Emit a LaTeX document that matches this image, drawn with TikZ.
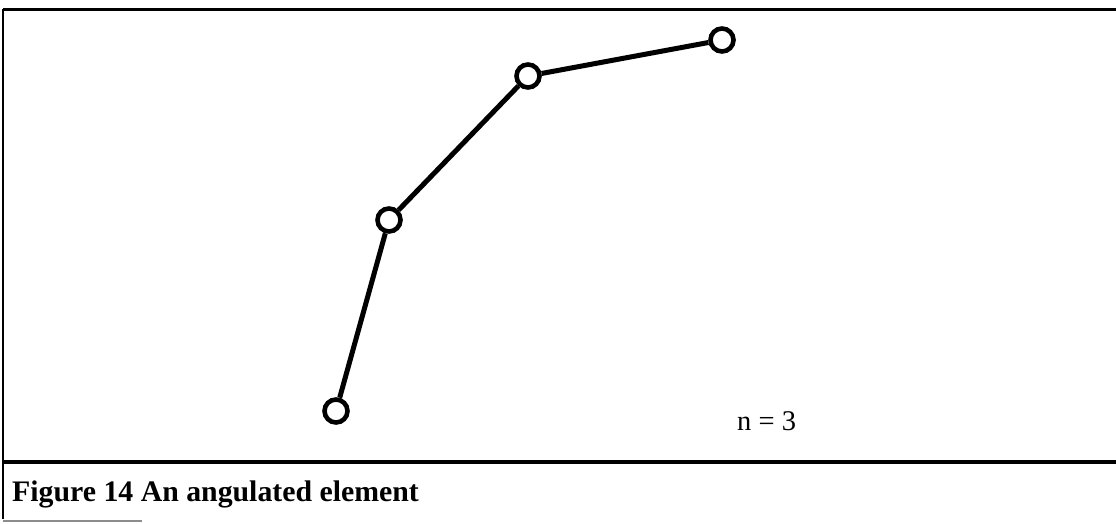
\documentclass[tikz,border=0pt]{standalone}
\usepackage{fontspec}
\setmainfont{Liberation Serif}

\tikzset{joint/.style={circle,draw,line width=4.6pt,minimum size=23pt,inner sep=0pt,fill=white},
	seg/.style={line width=5pt}}

\begin{document}
\begin{tikzpicture}[x=1pt,y=-1pt]
	\useasboundingbox (0,0) rectangle (1116,524);
%
	\draw[line width=3pt] (3,10) -- (1116,10);
	\draw[line width=2.4pt] (3,9) -- (3,519);
	\draw[line width=3.6pt] (3,462) -- (1116,462);
	\draw[line width=1.4pt,black!45] (3,521) -- (142,521);
%
	\node[joint] (p0) at (336,411) {};
	\node[joint] (p1) at (389,220) {};
	\node[joint] (p2) at (528,76) {};
	\node[joint] (p3) at (722,40) {};
	\draw[seg] (p0) -- (p1);
	\draw[seg] (p1) -- (p2);
	\draw[seg] (p2) -- (p3);
%
	\node[anchor=base west,font=\fontsize{28.5}{32}\selectfont,inner sep=0pt] (lbl) at (737,430) {n = 3};
	\node[anchor=base west,font=\fontsize{29.8}{34}\selectfont\bfseries,inner sep=0pt] (cap) at (12,501) {Figure 14 An angulated element};
\end{tikzpicture}
\end{document}
